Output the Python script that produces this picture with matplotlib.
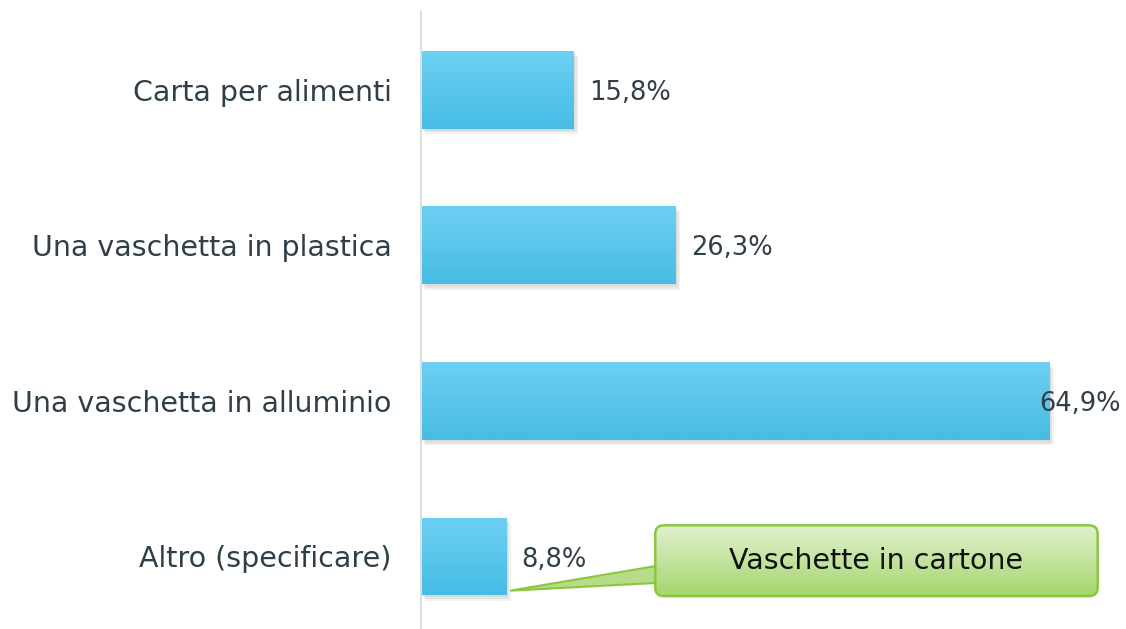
import numpy as np
import matplotlib
matplotlib.use("Agg")
import matplotlib.pyplot as plt
from matplotlib.patches import FancyBboxPatch, Polygon, Rectangle

categories = ["Carta per alimenti", "Una vaschetta in plastica",
              "Una vaschetta in alluminio", "Altro (specificare)"]
values = [15.8, 26.3, 64.9, 8.8]
value_labels = ["15,8%", "26,3%", "64,9%", "8,8%"]
callout_text = "Vaschette in cartone"

TEXT = "#2e3f48"
fig = plt.figure(figsize=(11.26, 6.29), dpi=100)
ax = fig.add_axes([421 / 1126, 1 - 628 / 629, (1118 - 421) / 1126, 616 / 629])
ax.set_xlim(0, 72)
ax.set_ylim(3.46, -0.5)

bar_h = 0.5
grad = np.linspace(0, 1, 64).reshape(-1, 1)
cmap = matplotlib.colors.LinearSegmentedColormap.from_list("b", ["#6dd0f2", "#47bce4"])
for i, v in enumerate(values):
    # soft shadow, a few layers
    for k, a in enumerate([0.05, 0.05, 0.05]):
        d = 0.012 * (k + 1)
        ax.add_patch(Rectangle((0.15 * (k + 1), i - bar_h / 2 + d), v, bar_h,
                               facecolor="#000000", alpha=a, lw=0, zorder=1))
    r = Rectangle((0, i - bar_h / 2), v, bar_h, facecolor="none", lw=0, zorder=2)
    ax.add_patch(r)
    im = ax.imshow(grad, cmap=cmap, aspect="auto",
                   extent=(0, v, i + bar_h / 2, i - bar_h / 2), zorder=2)
    im.set_clip_path(r)
    if v == max(values):
        ax.text(v - 1.0, i + 0.02, value_labels[i], ha="left", va="center",
                fontsize=18.5, color=TEXT, zorder=3)
    else:
        ax.text(v + 1.6, i + 0.02, value_labels[i], ha="left", va="center",
                fontsize=18.5, color=TEXT, zorder=3)

ax.set_yticks(range(len(categories)))
ax.set_yticklabels(categories, fontsize=20.5, color=TEXT)
ax.tick_params(axis="y", length=0, pad=21)
ax.set_xticks([])
for s in ["top", "right", "bottom"]:
    ax.spines[s].set_visible(False)
ax.spines["left"].set_color("#d9dfe1")
ax.spines["left"].set_linewidth(1.5)

# callout box for "Altro"
bx0, bx1 = 24.2, 69.9
by0, by1 = 2.80, 3.255
ptr = Polygon([(bx0 + 0.2, 3.06), (9.2, 3.22), (bx0 + 0.2, 3.17)], closed=True,
              facecolor="#b6dc8a", edgecolor="#8cc63f", lw=1.5, zorder=4)
ax.add_patch(ptr)
box = FancyBboxPatch((bx0, by0), bx1 - bx0, by1 - by0,
                     boxstyle="round,pad=0,rounding_size=0.9", mutation_aspect=0.06,
                     facecolor="none", edgecolor="#8cc63f", lw=1.8, zorder=6)
ax.add_patch(box)
gcmap = matplotlib.colors.LinearSegmentedColormap.from_list("g", ["#e0f1d0", "#a6d66d"])
gim = ax.imshow(grad, cmap=gcmap, aspect="auto", extent=(bx0, bx1, by1, by0), zorder=5)
gim.set_clip_path(box)
ax.add_patch(Rectangle((bx0 + 0.1, 3.065), 0.6, 0.1, facecolor="#b6dc8a", lw=0, zorder=5.5))
ax.text((bx0 + bx1) / 2, (by0 + by1) / 2, callout_text, ha="center", va="center",
        fontsize=20.5, color="#111111", zorder=7)

ax.set_xlim(0, 72)
ax.set_ylim(3.46, -0.5)
fig.savefig("out.png", dpi=100)
